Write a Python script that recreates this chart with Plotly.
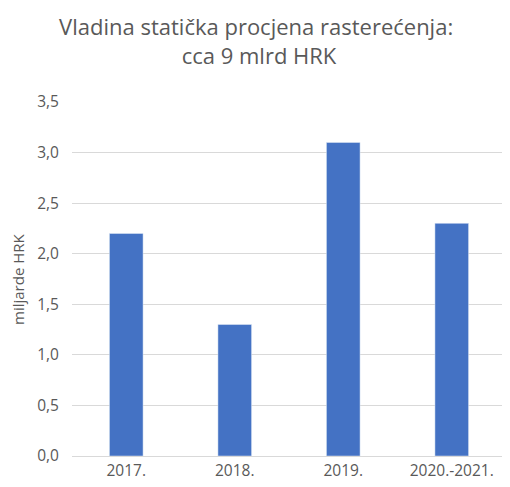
import plotly.graph_objects as go

categories = ["2017.", "2018.", "2019.", "2020.-2021."]
values = [2.2, 1.3, 3.1, 2.3]
tick_vals = [0, 0.5, 1.0, 1.5, 2.0, 2.5, 3.0, 3.5]
tick_text = ["0,0", "0,5", "1,0", "1,5", "2,0", "2,5", "3,0", "3,5"]
y_title = "miljarde HRK"

fig = go.Figure(go.Bar(x=categories, y=values, marker_color="#4472C4", width=0.31))

fig.update_layout(
    width=502, height=479,
    margin=dict(l=64, r=4, t=94, b=31),
    paper_bgcolor="white", plot_bgcolor="white",
    font=dict(family="Open Sans", color="#595959", size=12),
    title=dict(text="Vladina statička procjena rasterećenja: <br>cca 9 mlrd HRK",
               x=0.5, xanchor="center", y=0.943, yanchor="middle",
               font=dict(size=22, color="#595959")),
    showlegend=False,
)
fig.add_annotation(text=y_title, xref="paper", yref="paper", x=0, y=0.5,
                   xshift=-54, textangle=-90, showarrow=False,
                   xanchor="center", yanchor="middle",
                   font=dict(size=15, color="#595959"))
fig.update_yaxes(range=[0, 3.5], tickvals=tick_vals, ticktext=tick_text,
                 gridcolor="#D9D9D9", gridwidth=1, zeroline=False,
                 showline=False, ticks="outside", ticklen=9, tickcolor="white",
                 tickfont=dict(size=15.5))
fig.update_xaxes(showline=True, linecolor="#D9D9D9", linewidth=1, ticks="",
                 tickfont=dict(size=15.5))

fig.write_html("out.html")
